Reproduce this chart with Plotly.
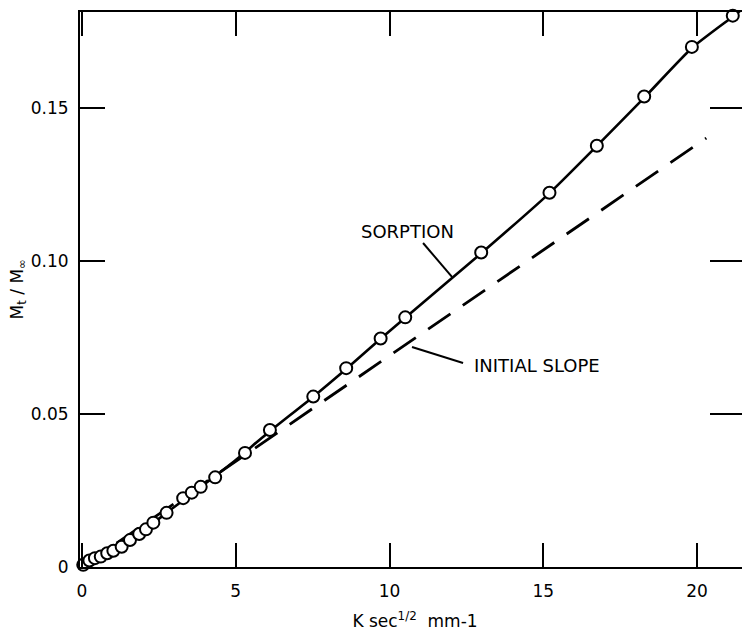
import plotly.graph_objects as go

# Measured points (sqrt time scale, Mt/Minf)
x_pts = [0.04, 0.24, 0.42, 0.61, 0.82, 1.02, 1.29, 1.56, 1.86, 2.08, 2.32, 2.75,
         3.29, 3.57, 3.86, 4.33, 5.30, 6.11, 7.52, 8.59, 9.71, 10.51, 12.98,
         15.20, 16.74, 18.28, 19.83, 21.16]
y_pts = [0.0007, 0.0021, 0.0029, 0.0034, 0.0045, 0.0053, 0.0066, 0.0088, 0.0108,
         0.0123, 0.0145, 0.0177, 0.0225, 0.0243, 0.0262, 0.0293, 0.0373, 0.0448,
         0.0557, 0.0650, 0.0747, 0.0816, 0.1028, 0.1223, 0.1377, 0.1538, 0.1700,
         0.1802]

# Sorption curve
x_curve = [0.0, 1.0, 2.0, 3.0, 4.0, 5.0, 6.0, 7.5, 8.6, 9.7, 10.5, 13.0, 15.2,
           16.75, 18.3, 19.85, 21.2, 21.7]
y_curve = [0.0, 0.0054, 0.0120, 0.0196, 0.0272, 0.0350, 0.0435, 0.0555, 0.0648,
           0.0745, 0.0814, 0.1027, 0.1222, 0.1377, 0.1536, 0.1698, 0.1802, 0.1842]

# Initial slope line
x_init = [0.0, 20.3]
y_init = [0.0, 0.1402]

x_ticks = [0, 5, 10, 15, 20]
x_ticktext = ["0", "5", "10", "15", "20"]
y_ticks = [0, 0.05, 0.10, 0.15]
y_ticktext = ["0", "0.05", "0.10", "0.15"]

FONT = "DejaVu Sans"

fig = go.Figure()
fig.add_trace(go.Scatter(x=x_init, y=y_init, mode="lines",
                         line=dict(color="black", width=2.8, dash="27px,15px"),
                         hoverinfo="skip"))
fig.add_trace(go.Scatter(x=x_curve, y=y_curve, mode="lines",
                         line=dict(color="black", width=2.6, shape="spline", smoothing=0.6),
                         hoverinfo="skip"))
fig.add_trace(go.Scatter(x=x_pts, y=y_pts, mode="markers",
                         marker=dict(symbol="circle", size=12, color="white",
                                     line=dict(color="black", width=2)),
                         cliponaxis=False))
# invisible trace to activate right y-axis ticks
fig.add_trace(go.Scatter(x=[0], y=[0], yaxis="y2", mode="markers",
                         marker=dict(opacity=0), hoverinfo="skip"))

# leader lines
fig.add_shape(type="line", x0=11.09, y0=0.1059, x1=12.03, y1=0.0948,
              line=dict(color="black", width=2))
fig.add_shape(type="line", x0=10.73, y0=0.0719, x1=12.39, y1=0.0667,
              line=dict(color="black", width=2))

fig.add_annotation(x=10.57, y=0.1098, text="SORPTION", showarrow=False,
                   font=dict(family=FONT, size=18, color="black"))
fig.add_annotation(x=14.8, y=0.0657, text="INITIAL SLOPE", showarrow=False,
                   font=dict(family=FONT, size=18, color="black"))
# y-axis title
fig.add_annotation(xref="paper", yref="paper", x=0, y=0.5, xshift=-62,
                   xanchor="center", yanchor="middle", textangle=-90,
                   text="M<sub>t</sub> / M<sub>∞</sub>", showarrow=False,
                   font=dict(family=FONT, size=17, color="black"))

fig.update_layout(
    width=742, height=626,
    margin=dict(l=72, r=0, t=4, b=67),
    plot_bgcolor="white", paper_bgcolor="white",
    showlegend=False,
    font=dict(family=FONT, size=17, color="black"),
    xaxis=dict(range=[-0.065, 21.72], tickvals=x_ticks, ticktext=x_ticktext,
               ticks="inside", ticklen=24, tickwidth=2, tickcolor="black",
               showline=True, linecolor="black", linewidth=2, mirror="ticks",
               showgrid=False, zeroline=False, automargin=False,
               ticklabelstandoff=8,
               title=dict(text="K sec<sup>1/2</sup>  mm-1", font=dict(size=17))),
    yaxis=dict(range=[0, 0.1814], tickvals=y_ticks, ticktext=y_ticktext,
               ticks="inside", ticklen=25, tickwidth=2, tickcolor="black",
               showline=True, linecolor="black", linewidth=2,
               showgrid=False, zeroline=False, automargin=False,
               ticklabelstandoff=6),
    yaxis2=dict(range=[0, 0.1814], overlaying="y", side="right",
                tickvals=[0.05, 0.10, 0.15], ticks="inside", ticklen=40, tickwidth=2,
                tickcolor="black", showticklabels=False, showline=False,
                showgrid=False, zeroline=False, automargin=False),
)

fig.write_html("out.html")
